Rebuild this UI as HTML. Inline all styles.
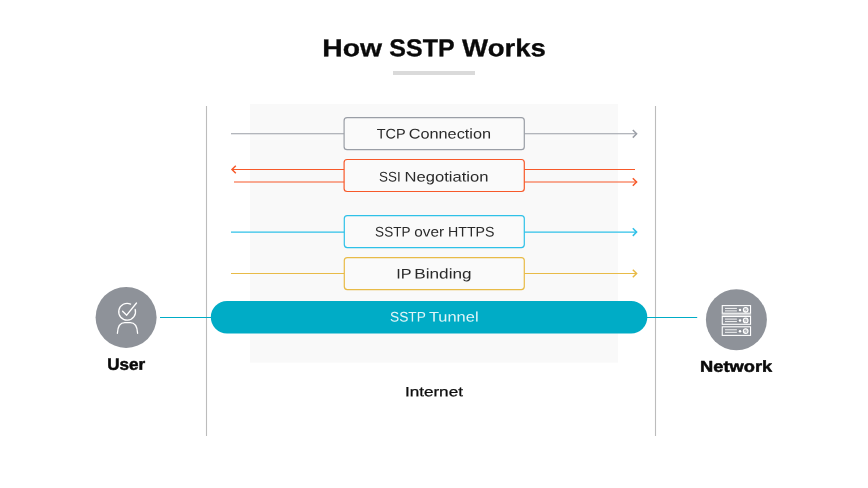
<!DOCTYPE html>
<html lang="en">
<head>
<meta charset="utf-8">
<title>How SSTP Works</title>
<style>
html,body{margin:0;padding:0;background:#fff;}
body{width:868px;height:488px;overflow:hidden;font-family:"Liberation Sans",sans-serif;}
svg{display:block;will-change:transform;}
text{font-family:"Liberation Sans",sans-serif;}
.l{fill:#2a2a2a;}
.w{fill:#ffffff;fill-opacity:.88;}
.m{fill:#0f0f0f;stroke:#0f0f0f;stroke-width:.25;}
.b{font-weight:bold;fill:#0a0a0a;stroke:#0a0a0a;stroke-width:.3;}
.b2{font-weight:bold;fill:#0a0a0a;stroke:#0a0a0a;stroke-width:.5;stroke-linejoin:round;}
</style>
</head>
<body>
<svg width="868" height="488" viewBox="0 0 868 488">
  <rect width="868" height="488" fill="#ffffff"/>
  <rect x="393" y="71" width="82" height="4" fill="#dadada"/>

  <!-- internet zone -->
  <rect x="250" y="104" width="368" height="258.6" fill="#f9f9f9"/>
  <line x1="206.5" y1="106" x2="206.5" y2="436" stroke="#bcbcbc" stroke-width="1.1"/>
  <line x1="655.5" y1="106" x2="655.5" y2="436" stroke="#bcbcbc" stroke-width="1.1"/>

  <!-- TCP -->
  <g stroke="#9a9ea6" stroke-width="1.1" fill="none">
    <line x1="231" y1="133.8" x2="636.5" y2="133.8"/>
    <polyline points="632.8,130.0 636.6,133.8 632.8,137.6" stroke-width="1.5"/>
  </g>
  <rect x="344.1" y="117.7" width="180.2" height="32" rx="3" fill="#fafafa" stroke="#9a9ea6" stroke-width="1.2"/>

  <!-- SSI -->
  <g stroke="#f7592a" stroke-width="1.1" fill="none">
    <line x1="232" y1="169.5" x2="635" y2="169.5"/>
    <polyline points="235.8,165.7 232,169.5 235.8,173.3" stroke-width="1.5"/>
    <line x1="234" y1="182" x2="636.5" y2="182"/>
    <polyline points="632.8,178.2 636.6,182 632.8,185.8" stroke-width="1.5"/>
  </g>
  <rect x="344.1" y="159.5" width="180.2" height="32" rx="3" fill="#fafafa" stroke="#f7592a" stroke-width="1.2"/>

  <!-- SSTP over HTTPS -->
  <g stroke="#2fc1e8" stroke-width="1.1" fill="none">
    <line x1="231" y1="232.1" x2="636.5" y2="232.1"/>
    <polyline points="632.8,228.3 636.6,232.1 632.8,235.9" stroke-width="1.5"/>
  </g>
  <rect x="344.3" y="215.6" width="180" height="32" rx="3" fill="#fafafa" stroke="#2fc1e8" stroke-width="1.2"/>

  <!-- IP Binding -->
  <g stroke="#e8bb47" stroke-width="1.1" fill="none">
    <line x1="231" y1="273.5" x2="636.5" y2="273.5"/>
    <polyline points="632.8,269.7 636.6,273.5 632.8,277.3" stroke-width="1.5"/>
  </g>
  <rect x="344.3" y="257.6" width="180" height="32" rx="3" fill="#fafafa" stroke="#e8bb47" stroke-width="1.2"/>

  <!-- tunnel -->
  <line x1="160" y1="317.5" x2="697.2" y2="317.5" stroke="#00acc6" stroke-width="1.1"/>
  <rect x="210.8" y="301" width="436.5" height="32.4" rx="16.2" fill="#00acc6"/>

  <!-- user -->
  <circle cx="126.1" cy="317.4" r="30.5" fill="#8e9299"/>
  <g fill="none" stroke="#ffffff" stroke-width="1.3" stroke-linecap="round" stroke-linejoin="round">
    <path d="M130.6,304.1 A8.4,8.4 0 1 0 135.2,309.4"/>
    <polyline points="122.6,311.3 126.7,315.2 136.5,303"/>
    <path d="M117.4,333.3 C117.7,327 119.6,322.7 124.8,322.7 H130.2 C135.4,322.7 137.3,327 137.6,333.3"/>
  </g>

  <!-- network -->
  <circle cx="736.4" cy="319.7" r="30.5" fill="#8e9299"/>
  <rect x="721.7" y="313.6" width="29.4" height="2.3" fill="#c9cbce"/>
  <g fill="none" stroke="#ffffff" stroke-width="1.1">
    <rect x="722.25" y="305.6" width="28.3" height="7.6"/>
    <rect x="722.25" y="316.5" width="28.3" height="7.8"/>
    <rect x="722.25" y="326.8" width="28.3" height="8.6"/>
  </g>
  <g stroke="#ffffff" stroke-opacity=".9" stroke-width="1" fill="none">
    <path d="M725,308.4H736.9M725,310.9H736.9M725,319.1H736.9M725,321.6H736.9M725,329.8H736.9M725,332.3H736.9"/>
  </g>
  <g fill="#ffffff">
    <circle cx="740" cy="309.9" r="1.25"/><circle cx="740" cy="320.5" r="1.25"/><circle cx="740" cy="331.2" r="1.25"/>
  </g>
  <g fill="#ffffff" fill-opacity=".55" stroke="#ffffff" stroke-width="1.1">
    <circle cx="745.7" cy="309.8" r="2.35"/><circle cx="745.7" cy="320.4" r="2.35"/><circle cx="745.7" cy="331.1" r="2.35"/>
  </g>
  <g fill="#8e9299" fill-opacity=".7">
    <circle cx="745" cy="309.2" r=".7"/><circle cx="746.5" cy="310.6" r=".6"/>
    <circle cx="745" cy="319.8" r=".7"/><circle cx="746.5" cy="321.2" r=".6"/>
    <circle cx="745" cy="330.5" r=".7"/><circle cx="746.5" cy="331.9" r=".6"/>
  </g>

  <g>
    <text class="b" font-size="24.4" transform="matrix(1.1608 0.001 0 1 322.19 56.2)">How</text>
    <text class="b" font-size="24.4" transform="matrix(1.0243 0.001 0 1 389.32 56.2)">SSTP</text>
    <text class="b" font-size="24.4" transform="matrix(1.1316 0.001 0 1 462.11 56.2)">Works</text>
  </g>
  <g>
    <text class="l" font-size="14.0" transform="matrix(1.0361 0.001 0 1 376.72 138.4)">TCP</text>
    <text class="l" font-size="14.0" transform="matrix(1.1647 0.001 0 1 408.66 138.4)">Connection</text>
  </g>
  <g>
    <text class="l" font-size="14.0" transform="matrix(0.9582 0.001 0 1 379.00 181.4)">SSI</text>
    <text class="l" font-size="14.0" transform="matrix(1.1861 0.001 0 1 404.49 181.4)">Negotiation</text>
  </g>
  <g>
    <text class="l" font-size="14.0" transform="matrix(0.9671 0.001 0 1 375.11 236.4)">SSTP</text>
    <text class="l" font-size="14.0" transform="matrix(1.0974 0.001 0 1 414.30 236.4)">over</text>
    <text class="l" font-size="14.0" transform="matrix(1.0151 0.001 0 1 447.96 236.4)">HTTPS</text>
  </g>
  <g>
    <text class="l" font-size="14.0" transform="matrix(1.1612 0.001 0 1 396.30 278.5)">IP</text>
    <text class="l" font-size="14.0" transform="matrix(1.2279 0.001 0 1 414.29 278.5)">Binding</text>
  </g>
  <g>
    <text class="w" font-size="13.8" transform="matrix(0.9947 0.001 0 1 390.06 321.4)">SSTP</text>
    <text class="w" font-size="13.8" transform="matrix(1.1918 0.001 0 1 428.89 321.4)">Tunnel</text>
  </g>
  <g>
    <text class="m" font-size="13.4" transform="matrix(1.2771 0.001 0 1 404.90 396.3)">Internet</text>
  </g>
  <g>
    <text class="b2" font-size="16.3" transform="matrix(1.0458 0.001 0 1 107.15 369.8)">User</text>
  </g>
  <g>
    <text class="b2" font-size="15.8" transform="matrix(1.1585 0.001 0 1 700.06 371.8)">Network</text>
  </g>
</svg>
</body>
</html>
